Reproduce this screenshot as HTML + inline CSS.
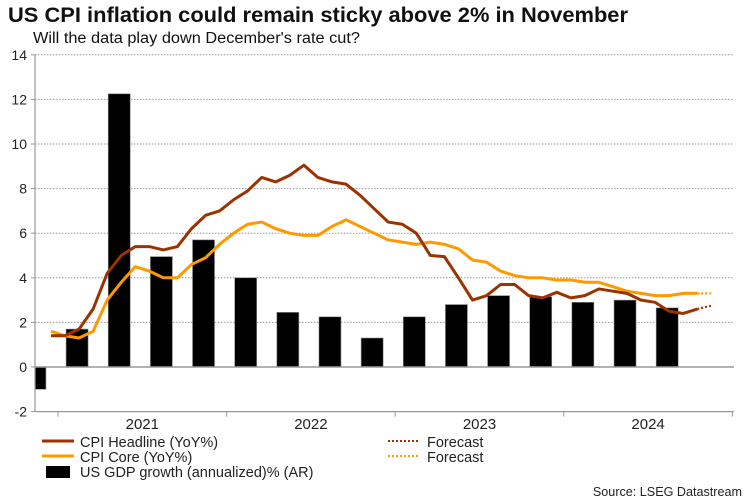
<!DOCTYPE html>
<html><head><meta charset="utf-8">
<style>
body{margin:0;background:#fff;font-family:"Liberation Sans",Arial,sans-serif;}
svg{display:block}
text{font-family:"Liberation Sans",Arial,sans-serif}
</style></head>
<body>
<svg id="chart" width="750" height="500">
<text x="8" y="22" font-size="21" font-weight="bold" fill="#111" textLength="620" lengthAdjust="spacingAndGlyphs">US CPI inflation could remain sticky above 2% in November</text>
<text x="33" y="43" font-size="15.5" fill="#111" textLength="327" lengthAdjust="spacingAndGlyphs">Will the data play down December's rate cut?</text>
<g id="grid"></g><g id="bars"></g><g id="lines"></g><g id="axes"></g>
<g>
<line x1="42" y1="441" x2="74" y2="441" stroke="#9a3300" stroke-width="3"/>
<text x="80" y="447" font-size="14.5" fill="#222">CPI Headline (YoY%)</text>
<line x1="42" y1="456" x2="74" y2="456" stroke="#ff9900" stroke-width="3"/>
<text x="80" y="462" font-size="14.5" fill="#222">CPI Core (YoY%)</text>
<rect x="46" y="466" width="24" height="12" fill="#000"/>
<text x="80" y="477" font-size="14.5" fill="#222">US GDP growth (annualized)% (AR)</text>
<line x1="388" y1="441" x2="420" y2="441" stroke="#9a3300" stroke-width="2" stroke-dasharray="2,2"/>
<text x="427" y="447" font-size="14.5" fill="#222">Forecast</text>
<line x1="388" y1="456" x2="420" y2="456" stroke="#ff9900" stroke-width="2" stroke-dasharray="2,2"/>
<text x="427" y="462" font-size="14.5" fill="#222">Forecast</text>
</g>
<text x="742" y="496" font-size="12.6" fill="#222" text-anchor="end">Source: LSEG Datastream</text>
</svg>
<script>
const yTicks=[-2,0,2,4,6,8,10,12,14];
const years=["2021","2022","2023","2024"];
// monthly from Dec 2020
const headline=[1.4,1.4,1.7,2.6,4.2,5.0,5.4,5.4,5.25,5.4,6.2,6.8,7.0,7.5,7.9,8.5,8.3,8.6,9.05,8.5,8.3,8.2,7.7,7.1,6.5,6.4,6.0,5.0,4.95,4.0,3.0,3.2,3.7,3.7,3.2,3.1,3.35,3.1,3.2,3.5,3.4,3.3,3.0,2.9,2.5,2.4,2.6];
const headlineForecast=[2.6,2.75];
const core=[1.6,1.4,1.3,1.6,3.0,3.8,4.5,4.3,4.0,4.0,4.6,4.9,5.5,6.0,6.4,6.5,6.2,6.0,5.9,5.9,6.3,6.6,6.3,6.0,5.7,5.6,5.5,5.6,5.5,5.3,4.8,4.7,4.3,4.1,4.0,4.0,3.9,3.9,3.8,3.8,3.6,3.4,3.3,3.2,3.2,3.3,3.3];
const coreForecast=[3.3,3.3];
// quarterly from Q4 2020
const gdp=[-1.0,1.7,12.25,4.95,5.7,4.0,2.45,2.25,1.3,2.25,2.8,3.2,3.15,2.9,3.0,2.65];

const NS="http://www.w3.org/2000/svg";
const X0=35,X1=734,tick0=58,mw=14.05;
const y=v=>367-v*22.3;
const xm=i=>tick0+(i-0.5)*mw; // i=0 => Dec 2020 center
function el(tag,attrs,parent){const e=document.createElementNS(NS,tag);for(const k in attrs)e.setAttribute(k,attrs[k]);document.getElementById(parent).appendChild(e);return e;}
yTicks.forEach(v=>{
  if(v!==0&&v!==-2){const g=el('line',{x1:X0,x2:X1,y1:y(v),y2:y(v),stroke:'#999','stroke-width':1,'stroke-dasharray':'1.5,1.5'},'grid');
  
  }
  const t=el('text',{x:27,y:y(v)+5,'font-size':14,'text-anchor':'end',fill:'#222'},'axes');t.textContent=v;
  
  
  el('line',{x1:31,x2:35,y1:y(v),y2:y(v),stroke:'#999'},'axes');
});
gdp.forEach((v,q)=>{
  const cx=xm(3*q-1)-2; let x=cx-11,w=22;
  if(x<X0){w-=X0-x;x=X0;}
  const r=el('rect',{x:x,y:Math.min(y(v),y(0)),width:w,height:Math.abs(y(v)-y(0)),fill:'#000',stroke:'#888','stroke-width':0.6},'bars');
  
  
});
function line(data,start,color,dash,name){
  const p=el('polyline',{points:data.map((v,i)=>xm(start+i)+','+y(v)).join(' '),fill:'none',stroke:color,'stroke-width':dash?2.2:3,'stroke-linejoin':'round'},'lines');
  if(dash)p.setAttribute('stroke-dasharray','2,2');
  
  
}
line(core,0,'#ff9900',false,'core-line');
line(coreForecast,core.length-1,'#ff9900',true,'core-forecast-line');
line(headline,0,'#9a3300',false,'headline-line');
line(headlineForecast,headline.length-1,'#9a3300',true,'headline-forecast-line');
el('line',{x1:X0,x2:X1,y1:y(0),y2:y(0),stroke:'#999','stroke-width':1.5},'axes');
el('line',{x1:X0,x2:X1,y1:y(-2),y2:y(-2),stroke:'#999','stroke-width':1.2},'axes');
el('line',{x1:X0,x2:X0,y1:y(14),y2:y(-2),stroke:'#999','stroke-width':1.2},'axes');
for(let k=0;k<=4;k++){const tx=tick0+k*12*mw;el('line',{x1:tx,x2:tx,y1:y(-2),y2:y(-2)+5,stroke:'#999'},'axes');}
years.forEach((s,k)=>{const t=el('text',{x:tick0+(k+0.5)*12*mw,y:429,'font-size':15,'text-anchor':'middle',fill:'#222'},'axes');t.textContent=s;
  
  });
</script>
</body></html>
